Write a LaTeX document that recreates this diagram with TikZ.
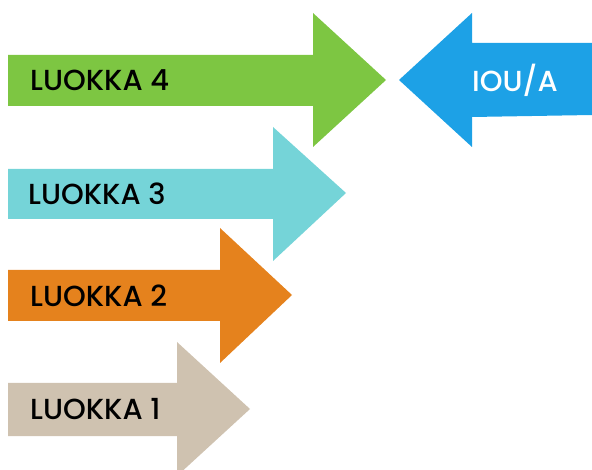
\documentclass[tikz,border=0pt]{standalone}
\usepackage{fontspec}
\setmainfont{Poppins}[UprightFont={* Medium}]
\definecolor{cgreen}{HTML}{7DC642}
\definecolor{cblue}{HTML}{1DA1E6}
\definecolor{ccyan}{HTML}{75D4D8}
\definecolor{corange}{HTML}{E5821D}
\definecolor{cbeige}{HTML}{CFC2B0}
\tikzset{
  lbl/.style={anchor=west, inner sep=0pt, font=\fontsize{29}{31}\selectfont, text=black},
}
\begin{document}
\begin{tikzpicture}[x=1pt,y=-1pt]
\useasboundingbox (0,0) rectangle (592,470);
\begin{scope}
\clip (0,0) rectangle (592,470);
% beige
\fill[cbeige] (8,383) -- (177,383) -- (177,342) -- (250,409) -- (177,476) -- (177,436) -- (8,436) -- cycle;
% orange
\fill[corange] (8,270) -- (220,270) -- (220,228) -- (292,295) -- (220,363) -- (220,321) -- (8,321) -- cycle;
% cyan
\fill[ccyan] (8,169) -- (273,169) -- (273,127) -- (346,193) -- (273,261) -- (273,219) -- (8,219) -- cycle;
% green
\fill[cgreen] (8,55) -- (313,55) -- (313,13) -- (386,80) -- (313,147) -- (313,106) -- (8,106) -- cycle;
% blue
\fill[cblue] (592,43) -- (472,43) -- (472,13) -- (399,80) -- (472,147) -- (472,117) -- (592,115) -- cycle;
\end{scope}
\node[lbl] (l4) at (30,80) {LUOKKA 4};
\node[lbl] (l3) at (28,194) {LUOKKA 3};
\node[lbl] (l2) at (30,296) {LUOKKA 2};
\node[lbl] (l1) at (30,409) {LUOKKA 1};
\node[lbl, text=white] (io) at (472,80) {IOU/A};
\end{tikzpicture}
\end{document}
